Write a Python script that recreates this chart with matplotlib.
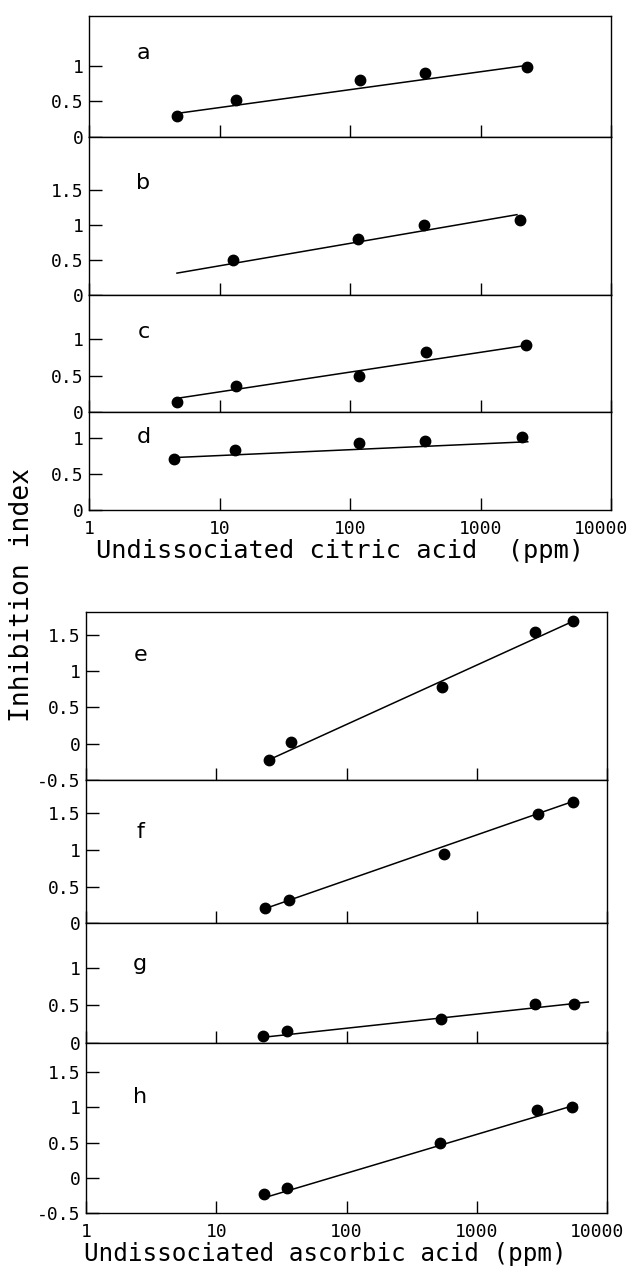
import matplotlib.pyplot as plt
from matplotlib.ticker import FixedLocator, FixedFormatter, NullLocator
from matplotlib.transforms import ScaledTranslation

plt.rcParams['font.family'] = ['DejaVu Sans Mono']

# citric acid panels (a - d): points and fitted lines
a_x = [4.7, 13.3, 119, 378, 2260]
a_y = [0.30, 0.52, 0.81, 0.90, 0.99]
a_fit_x = [4.7, 2260]
a_fit_y = [0.33, 1.01]

b_x = [12.7, 114, 369, 2010]
b_y = [0.50, 0.80, 1.00, 1.07]
b_fit_x = [4.7, 1900]
b_fit_y = [0.31, 1.15]

c_x = [4.7, 13.3, 116, 382, 2220]
c_y = [0.14, 0.36, 0.50, 0.82, 0.92]
c_fit_x = [4.7, 2140]
c_fit_y = [0.19, 0.905]

d_x = [4.5, 13.1, 117, 375, 2090]
d_y = [0.71, 0.83, 0.93, 0.96, 1.02]
d_fit_x = [4.5, 2300]
d_fit_y = [0.73, 0.95]

# ascorbic acid panels (e - h)
e_x = [25.5, 37.3, 544, 2820, 5510]
e_y = [-0.22, 0.03, 0.78, 1.54, 1.69]
e_fit_x = [25.5, 5510]
e_fit_y = [-0.22, 1.69]

f_x = [23.7, 36.4, 561, 2940, 5510]
f_y = [0.21, 0.32, 0.94, 1.49, 1.65]
f_fit_x = [23.7, 5510]
f_fit_y = [0.20, 1.66]

g_x = [23, 35.1, 532, 2800, 5610]
g_y = [0.09, 0.15, 0.32, 0.51, 0.51]
g_fit_x = [23, 7190]
g_fit_y = [0.07, 0.54]

h_x = [23.3, 35.1, 522, 2920, 5390]
h_y = [-0.22, -0.14, 0.50, 0.97, 1.00]
h_fit_x = [23.3, 5850]
h_fit_y = [-0.28, 1.04]

x_ticks = [1, 10, 100, 1000, 10000]
x_labels = ["1", "10", "100", "1000", "10000"]

# y range and ticks per panel
a_ylim, a_ticks = (0, 1.71), [0, 0.5, 1]
b_ylim, b_ticks = (0, 2.27), [0, 0.5, 1, 1.5]
c_ylim, c_ticks = (0, 1.60), [0, 0.5, 1]
d_ylim, d_ticks = (0, 1.36), [0, 0.5, 1]
e_ylim, e_ticks = (-0.5, 1.82), [-0.5, 0, 0.5, 1, 1.5]
f_ylim, f_ticks = (0, 1.95), [0, 0.5, 1, 1.5]
g_ylim, g_ticks = (0, 1.59), [0, 0.5, 1]
h_ylim, h_ticks = (-0.5, 1.92), [-0.5, 0, 0.5, 1, 1.5]

W, H = 636, 1268
fig = plt.figure(figsize=(W / 100, H / 100), dpi=100)


def make_group(left, right, edges, panels, xlabel, xl_pos, xl_size):
    for i, (letter, px, py, fx, fy, ylim, ticks, ly) in enumerate(panels):
        top, bot = edges[i], edges[i + 1]
        ax = fig.add_axes([left / W, 1 - bot / H, (right - left) / W, (bot - top) / H])
        ax.plot(fx, fy, color="black", lw=1.1)
        ax.plot(px, py, "o", color="black", ms=7.5)
        ax.set_xscale("log")
        ax.set_xlim(1, 10000)
        ax.set_ylim(*ylim)
        ax.xaxis.set_major_locator(FixedLocator(x_ticks))
        ax.xaxis.set_minor_locator(NullLocator())
        ax.yaxis.set_major_locator(FixedLocator(ticks))
        ax.yaxis.set_major_formatter(FixedFormatter([f"{t:g}" for t in ticks]))
        ax.tick_params(axis="x", direction="in", length=8.5, width=1, pad=7)
        ax.tick_params(axis="y", direction="in", length=9, width=1, pad=4,
                       labelsize=13)
        for s in ax.spines.values():
            s.set_linewidth(1)
        if i == len(panels) - 1:
            ax.xaxis.set_major_formatter(FixedFormatter(x_labels))
            ax.tick_params(axis="x", labelsize=13)
            ax.set_xlabel(xlabel, fontsize=xl_size, labelpad=1, x=xl_pos)
            # the last label sits a bit left of its tick, as in the original
            last = ax.xaxis.get_major_ticks()[-1].label1
            last.set_transform(last.get_transform()
                               + ScaledTranslation(-10 / 100, 0, fig.dpi_scale_trans))
        else:
            ax.set_xticklabels([])
        ax.text(0.104, ly, letter, transform=ax.transAxes, fontsize=16,
                family="DejaVu Sans", ha="center", va="center")


make_group(89.3, 611, [16, 136.7, 294.7, 412.3, 510], [
    ("a", a_x, a_y, a_fit_x, a_fit_y, a_ylim, a_ticks, 0.69),
    ("b", b_x, b_y, b_fit_x, b_fit_y, b_ylim, b_ticks, 0.707),
    ("c", c_x, c_y, c_fit_x, c_fit_y, c_ylim, c_ticks, 0.685),
    ("d", d_x, d_y, d_fit_x, d_fit_y, d_ylim, d_ticks, 0.75),
], "Undissociated citric acid  (ppm)", 0.48, 18.3)

make_group(86, 607, [611.7, 780, 923.3, 1042.5, 1213.3], [
    ("e", e_x, e_y, e_fit_x, e_fit_y, e_ylim, e_ticks, 0.74),
    ("f", f_x, f_y, f_fit_x, f_fit_y, f_ylim, f_ticks, 0.64),
    ("g", g_x, g_y, g_fit_x, g_fit_y, g_ylim, g_ticks, 0.66),
    ("h", h_x, h_y, h_fit_x, h_fit_y, h_ylim, h_ticks, 0.68),
], "Undissociated ascorbic acid (ppm)", 0.459, 17.5)

fig.text(22 / W, 1 - 595 / H, "Inhibition index", rotation=90, fontsize=19,
         ha="center", va="center")

fig.savefig("out.png", dpi=100)
